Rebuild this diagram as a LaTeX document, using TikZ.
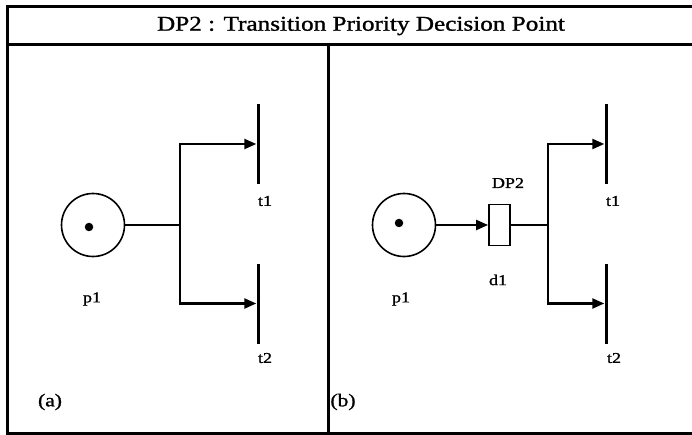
\documentclass[tikz,border=0pt]{standalone}
\usepackage{fontspec}
\setmainfont{Liberation Serif}
\newfontfamily\scanfont[FakeStretch=1.2,FakeBold=1.2]{Liberation Serif}
\usetikzlibrary{arrows.meta}

\begin{document}
\begin{tikzpicture}[x=1pt, y=-1pt]
    % Stijlen
    \tikzset{
        place/.style={draw, circle, line width=1.6pt, minimum size=63pt, inner sep=0pt},
        token/.style={fill, circle, minimum size=8.5pt, inner sep=0pt},
        bar/.style={fill, minimum width=3pt, minimum height=80pt, inner sep=0pt},
        dbox/.style={draw, line width=1.8pt, minimum width=21pt, minimum height=41pt, inner sep=0pt},
        arc/.style={line width=2.3pt, -{Triangle[length=12pt,width=10pt]}},
        lbl/.style={font=\scanfont\fontsize{15}{18}\selectfont, inner sep=0pt},
        frame/.style={line width=3pt}
    }
    \useasboundingbox (0,0) rectangle (692,435);

    % Kader
    \draw[frame] (692,7) -- (7,7) -- (7,433) -- (692,433);
    \draw[frame] (7,45) -- (692,45);
    \draw[frame] (328,45) -- (328,433);
    \node[font=\scanfont\fontsize{21}{25}\selectfont] (title) at (361,26) {DP2 : Transition Priority Decision Point};

    % (a)
    \node[place] (pa) at (93,225) {};
    \node[token] (ka) at (89,227) {};
    \coordinate (ja) at (180,225);
    \node[bar] (t1a) at (258,144) {};
    \node[bar] (t2a) at (258,303.5) {};
    \draw[line width=2.3pt] (pa.east) -- (ja);
    \draw[arc] (ja) |- (t1a.west);
    \draw[arc] (ja) |- (t2a.west);
    \node[lbl] (lt1a) at (265,201) {t1};
    \node[lbl] (lt2a) at (265,358) {t2};
    \node[lbl] (lpa) at (92,299) {p1};
    \node[lbl, font=\scanfont\fontsize{18}{21}\selectfont] (la) at (50,402) {(a)};

    % (b)
    \node[place] (pb) at (404,225) {};
    \node[token] (kb) at (399,223) {};
    \node[dbox] (d1) at (499.5,225) {};
    \coordinate (jb) at (548,225);
    \node[bar] (t1b) at (606,144) {};
    \node[bar] (t2b) at (606,303.5) {};
    \draw[arc] (pb) -- (d1);
    \draw[line width=1.6pt] (d1) -- (jb);
    \draw[arc] (jb) |- (t1b.west);
    \draw[arc] (jb) |- (t2b.west);
    \node[lbl] (ldp) at (508,183) {DP2};
    \node[lbl] (ld1) at (498,280) {d1};
    \node[lbl] (lt1b) at (613,201) {t1};
    \node[lbl] (lt2b) at (614,358) {t2};
    \node[lbl] (lpb) at (401,299) {p1};
    \node[lbl, font=\scanfont\fontsize{18}{21}\selectfont] (lb) at (343,402) {(b)};
\end{tikzpicture}
\end{document}
